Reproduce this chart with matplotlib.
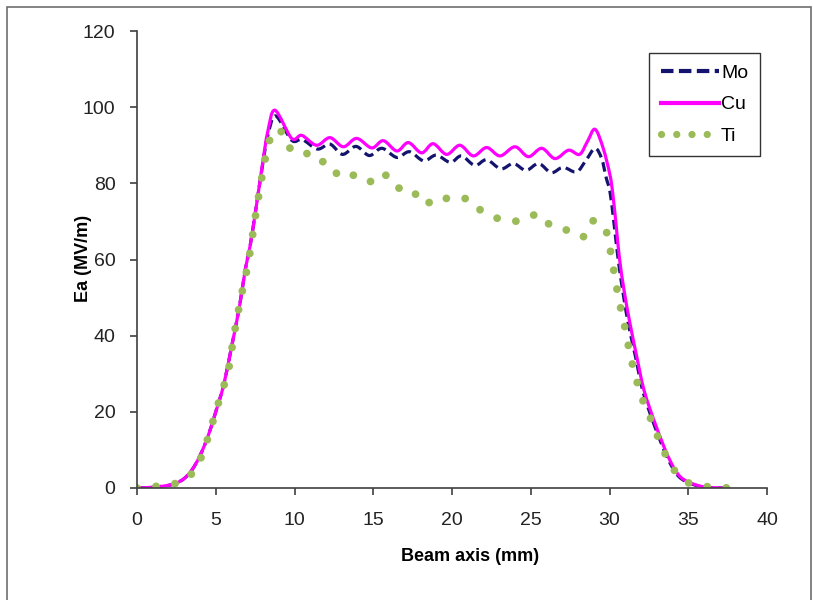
import numpy as np
import matplotlib
matplotlib.use("Agg")
import matplotlib.pyplot as plt
from matplotlib.path import Path
from matplotlib.patches import PathPatch, Rectangle
from matplotlib.lines import Line2D

plt.rcParams['font.family'] = ['Liberation Sans', 'DejaVu Sans']

# values (beam axis in mm, Ea in MV/m)
mo_x = [0, 1, 2, 2.5, 3, 3.5, 4, 4.5, 5, 5.5, 6, 6.5, 6.86, 7.2, 7.6, 8.0, 8.3, 8.8,
        9.82, 10.5, 11.45, 12.25, 13.05, 13.9, 14.75, 15.55, 16.5, 17.3, 18.2, 19.0,
        19.9, 20.6, 21.45, 22.2, 23.1, 23.9, 24.7, 25.5, 26.3, 27.05, 27.9, 28.5, 29.08,
        29.5, 29.8, 30.03, 30.3, 30.55, 30.85, 31.2, 31.65, 32.1, 32.8, 33.65, 34.4,
        35.4, 36.5, 37.5]
mo_y = [0, 0.2, 0.7, 1.3, 2.5, 4.8, 8.5, 13.5, 20, 27, 37, 47.5, 57, 64, 74.7, 85.5, 92.5, 97.7,
        91.3, 91.5, 89.0, 90.3, 87.6, 89.7, 87.3, 89.2, 86.8, 88.3, 85.9, 87.4,
        85.5, 87.2, 84.7, 86.2, 83.8, 85.2, 83.4, 85.2, 82.8, 84.2, 83.0, 86.0, 89.2,
        86.5, 81.3, 77.8, 69, 60, 51.5, 43, 34.5, 25.7, 17, 8.2, 3,
        0.8, 0.1, 0]

cu_x = [0, 1, 2, 2.5, 3, 3.5, 4, 4.5, 5, 5.5, 6, 6.5, 6.86, 7.2, 7.6, 8.0, 8.3, 8.76,
        9.82, 10.46, 11.4, 12.25, 13.1, 13.95, 14.9, 15.64, 16.5, 17.23, 18.07, 18.8,
        19.66, 20.5, 21.35, 22.2, 23.05, 24.0, 24.85, 25.7, 26.54, 27.4, 28.1, 28.6, 29.08,
        29.6, 30.03, 30.2, 30.41, 30.62, 30.92, 31.3, 31.73, 32.19, 32.89, 33.73, 34.48,
        35.5, 36.5, 37.5]
cu_y = [0, 0.2, 0.7, 1.3, 2.5, 4.8, 8.5, 13.5, 20, 27, 37, 47.5, 57, 64, 74.7, 86, 93.5, 99.2,
        91.8, 92.6, 90.0, 92.0, 89.6, 91.8, 89.3, 91.2, 88.5, 90.7, 88.0, 90.4,
        87.6, 90.0, 87.2, 89.4, 87.2, 89.6, 87.0, 89.2, 86.5, 88.7, 87.6, 91.0, 94.2,
        89.2, 82.2, 77.5, 69.5, 60.7, 52, 43.2, 34.5, 25.7, 17, 8.2, 3,
        0.8, 0.1, 0]

ti_x = [0, 1.15, 2.3, 3.3, 3.95, 4.4, 5.07, 5.8, 6.15, 6.6, 7.1, 7.6, 8.2, 8.6, 9.08,
        9.6, 10.5, 11.2, 12.2, 12.9, 13.8, 14.7, 15.6, 16.4, 17.4, 18.2, 19.1, 20.1,
        21.0, 21.8, 22.7, 23.6, 24.5, 25.5, 26.3, 27.3, 28.3, 28.9, 29.7, 30.0, 30.2,
        30.4, 30.6, 30.85, 31.1, 31.3, 31.6, 31.9, 32.3, 32.8, 33.2, 33.7, 34.3, 35.2,
        36.4, 37.7]
ti_y = [0, 0.4, 1.0, 3.0, 7.0, 11.8, 21, 31, 40, 50, 60, 73.5, 87.7, 93, 94,
        89.5, 89, 86, 85.3, 81.6, 82.1, 80.3, 82.7, 79, 78.5, 74.5, 76.4, 75.6,
        75.9, 73, 71.1, 70.1, 70.3, 71.9, 68.8, 67.7, 65.9, 70.1, 68.2, 63.5, 58.8,
        54, 49.3, 44.6, 39.6, 35.2, 30.2, 25.7, 21, 16.5, 12, 7.6, 3.7, 1.0,
        0.3, 0]

names = ['Mo', 'Cu', 'Ti']
colors = ['#14146e', '#ff00ff', '#9bbb59']


def smooth_path(xs, ys):
    # smoothed line through the points (Catmull-Rom as Bezier segments)
    p = np.column_stack([xs, ys]).astype(float)
    ext = np.vstack([p[0], p, p[-1]])
    verts = [p[0]]
    codes = [Path.MOVETO]
    for i in range(len(p) - 1):
        p0, p1, p2, p3 = ext[i], ext[i + 1], ext[i + 2], ext[i + 3]
        verts += [p1 + (p2 - p0) / 6, p2 - (p3 - p1) / 6, p2]
        codes += [Path.CURVE4] * 3
    return Path(verts, codes)


fig = plt.figure(figsize=(8.13, 6), dpi=100)
ax = fig.add_axes([137 / 813, 112 / 600, 630 / 813, 457 / 600])

styles = [
    dict(linewidth=2.3, linestyle=(0, (3.0, 1.6)), capstyle='butt'),
    dict(linewidth=2.3, linestyle='-', capstyle='round'),
    dict(linewidth=5.6, linestyle=(0, (0.01, 2.45)), capstyle='round'),
]
series = [(mo_x, mo_y), (cu_x, cu_y), (ti_x, ti_y)]
for (xs, ys), c, st in zip(series, colors, styles):
    ax.add_patch(PathPatch(smooth_path(xs, ys), fill=False, edgecolor=c,
                           joinstyle='round', **st))

ax.set_xlim(0, 40)
ax.set_ylim(0, 120)
ax.set_xticks(range(0, 41, 5))
ax.set_yticks(range(0, 121, 20))
for s in ['top', 'right']:
    ax.spines[s].set_visible(False)
for s in ['left', 'bottom']:
    ax.spines[s].set_color('#404040')
    ax.spines[s].set_linewidth(1.2)
ax.tick_params(direction='out', length=5, width=1.2, color='#404040',
               labelsize=14, labelcolor='#222222')
ax.tick_params(axis='x', pad=12.5)
ax.tick_params(axis='y', pad=10.5)

ax.set_xlabel('Beam axis (mm)', fontsize=13, fontweight='bold')
ax.xaxis.set_label_coords(0.5286, -0.131)
ax.set_ylabel('Ea (MV/m)', fontsize=13, fontweight='bold')
ax.yaxis.set_label_coords(-0.0714, 0.503)

handles = [
    Line2D([], [], color=colors[0], lw=3, linestyle=(0, (3.0, 1.3))),
    Line2D([], [], color=colors[1], lw=3),
    Line2D([], [], color=colors[2], lw=5.2, linestyle=(0, (0.01, 2.1)),
           dash_capstyle='round'),
]
leg = ax.legend(handles, names, loc='upper left',
                bbox_to_anchor=(649 / 813, 547 / 600), bbox_transform=fig.transFigure,
                borderaxespad=0, fontsize=14, frameon=True, fancybox=False,
                handlelength=3.0, handletextpad=0.1, borderpad=0.6,
                labelspacing=0.7)
leg.get_frame().set_edgecolor('black')
leg.get_frame().set_linewidth(1.0)

# outer chart-area border
fig.patches.append(Rectangle((7 / 813, -0.05), 804 / 813, 1.05 - 7 / 600,
                             transform=fig.transFigure, fill=False,
                             edgecolor='#6e6e6e', linewidth=1.2))

fig.savefig('out.png', dpi=100)
